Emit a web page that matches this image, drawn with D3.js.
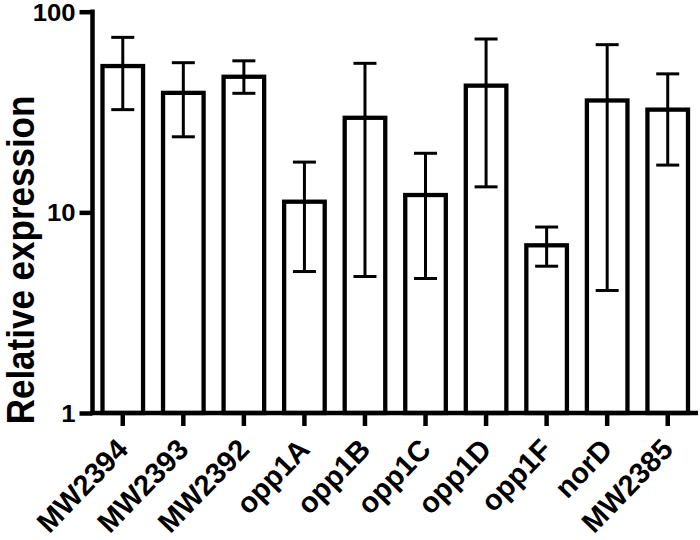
<!DOCTYPE html>
<html>
<head>
<meta charset="utf-8">
<script src="https://cdn.jsdelivr.net/npm/d3@7"></script>
<style>
  html, body { margin: 0; padding: 0; background: #fff; }
  text { font-family: "Liberation Sans", Arial, sans-serif; font-weight: bold; fill: #000; }
</style>
</head>
<body>
<svg id="chart" width="700" height="540"></svg>
<script>
const categories = ["MW2394", "MW2393", "MW2392", "opp1A", "opp1B", "opp1C", "opp1D", "opp1F", "norD", "MW2385"];
const values     = [53.6, 39.4, 47.4, 11.3, 29.6, 12.2, 42.8, 6.85, 36.1, 32.5];
const errUpper   = [74.5, 55.7, 56.9, 17.8, 55.3, 19.7, 73.1, 8.45, 68.5, 49.0];
const errLower   = [32.5, 23.8, 39.2, 5.07, 4.79, 4.68, 13.4, 5.39, 4.08, 17.2];
const yTicks     = [1, 10, 100];
const yTickLabels = ["1", "10", "100"];
const yTitle = "Relative expression";

(function () {
const svg = d3.select("#chart");
const pLeft = 92.5, pRight = 698, pTop = 11.7, pBottom = 413;

const x = d3.scaleBand().domain(categories).range([pLeft, pRight]);
const y = d3.scaleLog().domain([1, 100]).range([pBottom, pTop]);

const barW = x.bandwidth() * 0.67;
const capW = 23;

const data = categories.map((c, i) => ({c, v: values[i], hi: errUpper[i], lo: errLower[i]}));

// bars
svg.append("g").selectAll("rect").data(data).join("rect")
  .attr("x", d => x(d.c) + x.bandwidth() / 2 - barW / 2)
  .attr("y", d => y(d.v))
  .attr("width", barW)
  .attr("height", d => y(1) - y(d.v))
  .attr("fill", "#fff")
  .attr("stroke", "#000")
  .attr("stroke-width", 4.3);

// error bars
const eg = svg.append("g").attr("stroke", "#000").attr("stroke-width", 3);
data.forEach(d => {
  const cx = x(d.c) + x.bandwidth() / 2;
  eg.append("line").attr("x1", cx).attr("x2", cx).attr("y1", y(d.hi)).attr("y2", y(d.lo));
  eg.append("line").attr("x1", cx - capW / 2).attr("x2", cx + capW / 2).attr("y1", y(d.hi)).attr("y2", y(d.hi));
  eg.append("line").attr("x1", cx - capW / 2).attr("x2", cx + capW / 2).attr("y1", y(d.lo)).attr("y2", y(d.lo));
});

// y axis
const yAxis = d3.axisLeft(y).tickValues(yTicks).tickFormat("").tickSize(13);
const yg = svg.append("g").attr("transform", `translate(${pLeft},0)`).call(yAxis);
yg.select(".domain").remove();
yg.append("line").attr("x1", 0).attr("x2", 0).attr("y1", pTop - 2.3).attr("y2", pBottom + 2).attr("stroke", "#000").attr("stroke-width", 4.5);
yg.selectAll(".tick line").attr("stroke", "#000").attr("stroke-width", 4.5);
yg.selectAll(".tick").append("text")
  .attr("text-anchor", "end")
  .attr("font-size", 24)
  .attr("transform", "translate(-17,0) scale(1.07,1)")
  .attr("dy", "0.36em")
  .text((d, i) => yTickLabels[i]);

// x axis
const xAxis = d3.axisBottom(x).tickSize(13).tickFormat("");
const xg = svg.append("g").attr("transform", `translate(0,${pBottom})`).call(xAxis);
xg.select(".domain").remove();
xg.append("line").attr("x1", pLeft - 2.2).attr("x2", pRight).attr("y1", 0).attr("y2", 0).attr("stroke", "#000").attr("stroke-width", 4.5);
xg.selectAll(".tick line").attr("stroke", "#000").attr("stroke-width", 4.5);

// x labels
svg.append("g").selectAll("text").data(categories).join("text")
  .attr("text-anchor", "end")
  .attr("font-size", 29)
  .attr("transform", d => `translate(${x(d) + x.bandwidth() / 2 + 7},451) rotate(-46)`)
  .text(d => d);

// y title
svg.append("text")
  .attr("text-anchor", "middle")
  .attr("font-size", 35)
  .attr("transform", `translate(34,260) scale(1.1,1) rotate(-90)`)
  .text(yTitle);
})();
</script>
</body>
</html>
